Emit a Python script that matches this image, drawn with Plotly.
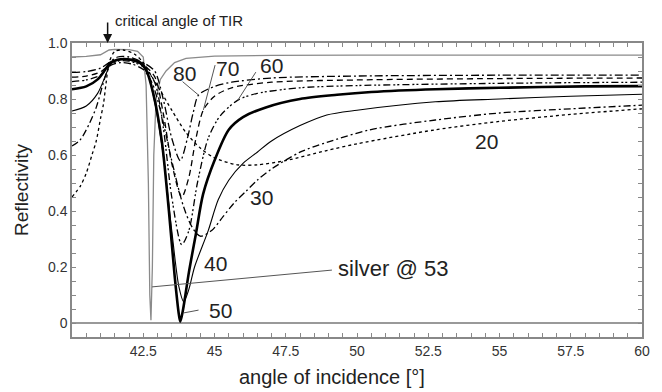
import plotly.graph_objects as go

# ---- data ----
silver_x = [40, 40.5, 41, 41.3, 41.5, 42, 42.3, 42.5, 42.6, 42.68, 42.73, 42.77, 42.82, 42.87, 42.95, 43.1, 43.3, 43.6, 44, 45, 47, 50, 60]
silver_y = [0.95, 0.952, 0.958, 0.975, 0.977, 0.976, 0.97, 0.95, 0.85, 0.5, 0.1, 0.01, 0.2, 0.6, 0.8, 0.87, 0.9, 0.93, 0.945, 0.953, 0.956, 0.957, 0.957]

g20_x = [40, 40.3, 40.5, 40.7, 40.85, 41.0, 41.1, 41.2, 41.3, 41.5, 41.8, 42.2, 42.5, 42.8, 43.1, 43.5, 44, 44.5, 45, 45.8, 46.5, 47.5, 48.9, 50, 52.75, 55, 57.5, 60]
g20_y = [0.45, 0.49, 0.535, 0.6, 0.65, 0.73, 0.78, 0.86, 0.93, 0.97, 0.975, 0.96, 0.93, 0.88, 0.83, 0.76, 0.68, 0.625, 0.59, 0.565, 0.565, 0.58, 0.615, 0.64, 0.69, 0.72, 0.745, 0.765]

g30_x = [40, 40.28, 40.6, 40.85, 41.05, 41.2, 41.35, 41.7, 42.1, 42.5, 42.8, 43.1, 43.5, 43.9, 44.2, 44.5, 44.9, 45.3, 45.7, 46.1, 46.5, 47, 48, 48.94, 50.45, 52.75, 55, 57.5, 60]
g30_y = [0.632, 0.653, 0.71, 0.77, 0.84, 0.89, 0.92, 0.93, 0.925, 0.905, 0.86, 0.76, 0.58, 0.42, 0.345, 0.31, 0.33, 0.38, 0.43, 0.47, 0.51, 0.55, 0.61, 0.645, 0.69, 0.725, 0.75, 0.765, 0.778]

g40_x = [40, 40.5, 40.9, 41.2, 41.35, 41.7, 42.1, 42.4, 42.65, 42.9, 43.2, 43.5, 43.75, 43.92, 44.1, 44.3, 44.78, 45.13, 45.5, 46, 46.5, 47, 48, 48.94, 50, 52.75, 55, 57.5, 60]
g40_y = [0.757, 0.775, 0.82, 0.89, 0.925, 0.94, 0.937, 0.925, 0.89, 0.79, 0.6, 0.33, 0.13, 0.076, 0.12, 0.2, 0.33, 0.44, 0.51, 0.57, 0.61, 0.65, 0.705, 0.743, 0.76, 0.79, 0.8, 0.81, 0.817]

g50_x = [40, 40.5, 40.9, 41.2, 41.35, 41.7, 42.1, 42.4, 42.6, 42.85, 43.15, 43.4, 43.6, 43.75, 43.8, 43.9, 44.1, 44.35, 44.6, 45, 45.5, 46, 46.8, 48, 49.3, 50.5, 52.75, 55, 58, 60]
g50_y = [0.835, 0.845, 0.87, 0.91, 0.93, 0.942, 0.94, 0.93, 0.905, 0.82, 0.65, 0.4, 0.17, 0.03, 0.005, 0.05, 0.18, 0.32, 0.46, 0.58, 0.69, 0.735, 0.77, 0.8, 0.815, 0.825, 0.835, 0.84, 0.845, 0.846]

g60_x = [40, 40.5, 41, 41.3, 41.6, 42, 42.5, 42.9, 43.2, 43.5, 43.85, 44.1, 44.4, 44.78, 45.2, 45.82, 46.5, 48, 50, 55, 60]
g60_y = [0.862, 0.868, 0.885, 0.918, 0.935, 0.935, 0.915, 0.86, 0.7, 0.45, 0.28, 0.33, 0.5, 0.66, 0.74, 0.796, 0.82, 0.84, 0.848, 0.856, 0.86]

g70_x = [40, 40.5, 41, 41.3, 41.6, 42, 42.5, 42.9, 43.2, 43.5, 43.85, 44.1, 44.35, 44.61, 45, 45.6, 47, 50, 55, 60]
g70_y = [0.878, 0.882, 0.897, 0.922, 0.94, 0.94, 0.922, 0.88, 0.75, 0.57, 0.45, 0.52, 0.66, 0.761, 0.81, 0.84, 0.86, 0.868, 0.873, 0.875]

g80_x = [40, 40.5, 41, 41.3, 41.6, 42, 42.5, 42.9, 43.2, 43.5, 43.8, 44.05, 44.25, 44.44, 45, 45.6, 47, 50, 55, 60]
g80_y = [0.895, 0.898, 0.91, 0.93, 0.95, 0.95, 0.93, 0.9, 0.8, 0.66, 0.58, 0.66, 0.75, 0.814, 0.845, 0.86, 0.875, 0.882, 0.885, 0.885]

x_tickvals = [42.5, 45, 47.5, 50, 52.5, 55, 57.5, 60]
x_ticktext = ["42.5", "45", "47.5", "50", "52.5", "55", "57.5", "60"]
y_tickvals = [0, 0.2, 0.4, 0.6, 0.8, 1.0]
y_ticktext = ["0", "0.2", "0.4", "0.6", "0.8", "1.0"]

FONT = "Liberation Sans, Arial, sans-serif"
fig = go.Figure()

def add(x, y, dash, width, color="black", shape="spline"):
    fig.add_trace(go.Scatter(x=x, y=y, mode="lines",
                             line=dict(color=color, width=width, dash=dash, shape=shape, smoothing=0.8),
                             showlegend=False, hoverinfo="skip"))

add(silver_x, silver_y, "solid", 1.3, color="#8a8a8a", shape="linear")
add(g20_x, g20_y, "dot", 1.3)
add(g30_x, g30_y, "7px,3px,2px,3px", 1.3)
add(g40_x, g40_y, "solid", 1.1)
add(g50_x, g50_y, "solid", 2.6)
add(g60_x, g60_y, "7px,3px,2px,2px,2px,3px", 1.3)
add(g70_x, g70_y, "6px,4px", 1.3)
add(g80_x, g80_y, "8px,3px,2px,3px", 1.3)

axis_common = dict(showline=True, linecolor="#888888", linewidth=1.5, mirror="allticks",
                   ticks="inside", ticklen=4, tickcolor="#888888", showgrid=False,
                   tickfont=dict(family=FONT, size=14, color="#333333"))
fig.update_xaxes(range=[40, 60], tickvals=x_tickvals, ticktext=x_ticktext,
                 minor=dict(dtick=0.5, tick0=40, ticks="inside", ticklen=4, tickcolor="#888888"),
                 zeroline=False, **axis_common)
fig.update_yaxes(range=[-0.05, 1.0], tickvals=y_tickvals, ticktext=y_ticktext,
                 minor=dict(dtick=0.05, tick0=0, ticks="inside", ticklen=4, tickcolor="#888888"),
                 title=dict(text="Reflectivity", font=dict(family=FONT, size=19, color="#222222"), standoff=14),
                 zeroline=True, zerolinecolor="#999999", zerolinewidth=1.5, **axis_common)

fig.add_annotation(xref="paper", yref="paper", x=(335 - 72) / 577, y=(337 - 377) / 294,
                   text="angle of incidence [°]", showarrow=False, xanchor="center", yanchor="middle",
                   font=dict(family=FONT, size=20, color="#222222"))

lab = dict(family=FONT, size=21, color="#222222")
def label(text, x, y, xanchor="center", size=21):
    fig.add_annotation(x=x, y=y, text=text, showarrow=False, font=dict(lab, size=size),
                       xanchor=xanchor, yanchor="middle")

label("80", 43.93, 0.892)
label("70", 45.45, 0.91)
label("60", 47.0, 0.92)
label("30", 46.65, 0.45)
label("20", 54.55, 0.65)
label("40", 45.03, 0.214)
label("50", 45.2, 0.046)
label("silver @ 53", 49.25, 0.196, xanchor="left", size=22)

def leader(x0, y0, x1, y1):
    fig.add_shape(type="line", x0=x0, y0=y0, x1=x1, y1=y1, line=dict(color="#555555", width=1))

leader(42.81, 0.129, 49.12, 0.189)
leader(43.88, 0.862, 44.44, 0.814)
leader(45.02, 0.921, 44.61, 0.761)
leader(46.45, 0.896, 45.82, 0.796)
leader(43.92, 0.036, 44.44, 0.046)

fig.add_annotation(x=41.25, y=1.0, text="", showarrow=True, arrowhead=2, arrowsize=1.2,
                   arrowwidth=1.5, arrowcolor="#111111", ax=0, ay=-22)
fig.add_annotation(xref="paper", yref="paper", x=(113 - 72) / 577, y=(337 - 20) / 294,
                   text="critical angle of TIR", showarrow=False,
                   xanchor="left", yanchor="middle", font=dict(family=FONT, size=15, color="#222222"))

fig.update_layout(width=662, height=392, margin=dict(l=72, r=13, t=43, b=55),
                  plot_bgcolor="white", paper_bgcolor="white")
fig.write_html("out.html")
